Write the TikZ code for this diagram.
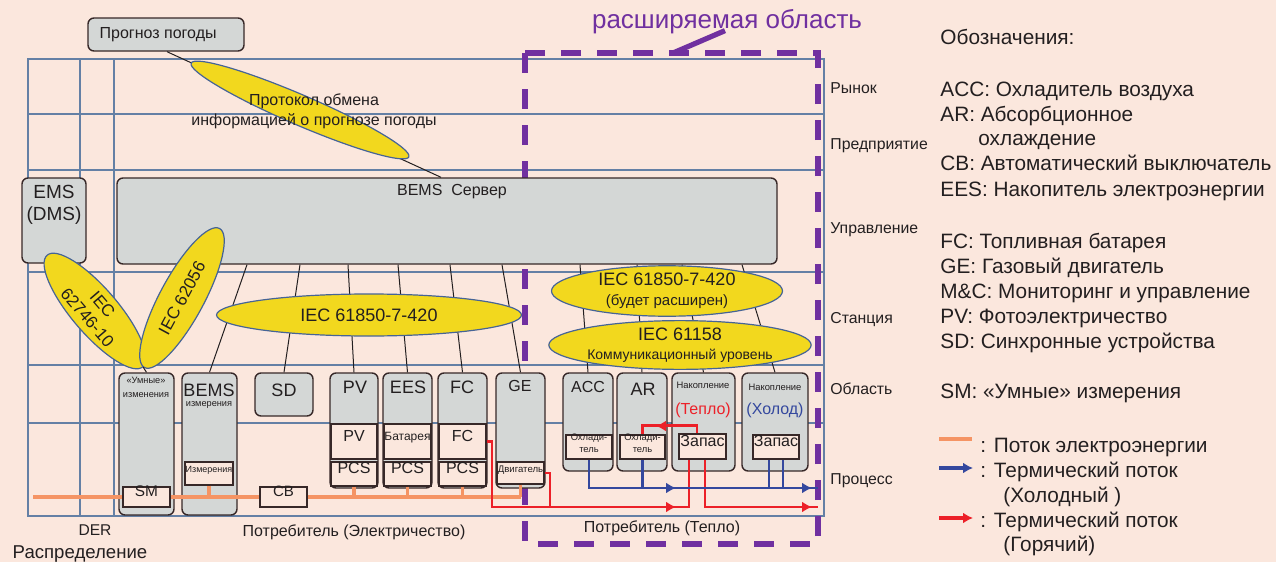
\documentclass[tikz,border=0pt]{standalone}
\usepackage{fontspec}
\setmainfont{Liberation Sans}
\usetikzlibrary{arrows.meta,positioning,calc,fit,shapes.geometric}

\definecolor{bgpink}{RGB}{251,231,221}
\definecolor{gridblue}{RGB}{100,128,165}
\definecolor{boxgray}{RGB}{212,215,214}
\definecolor{boxedge}{RGB}{55,40,40}
\definecolor{yell}{RGB}{242,216,30}
\definecolor{elledge}{RGB}{70,100,150}
\definecolor{extpurple}{RGB}{112,48,160}
\definecolor{elecorange}{RGB}{245,148,100}
\definecolor{hotred}{RGB}{236,32,40}
\definecolor{coldblue}{RGB}{52,72,158}
\definecolor{txtdark}{RGB}{35,31,32}

\newcommand{\fsz}[2]{\fontsize{#1}{#2}\selectfont}

\tikzset{
  dev/.style={draw=boxedge,fill=boxgray,rounded corners=3pt,line width=0.7pt,inner sep=0pt},
  part/.style={draw=boxedge,fill=bgpink,line width=0.7pt,inner sep=0pt,text=txtdark,align=center},
  proto/.style={ellipse,draw=elledge,fill=yell,line width=0.6pt,inner sep=0pt,text=txtdark,align=center},
  gridline/.style={gridblue,line width=0.9pt},
  link/.style={txtdark,line width=0.5pt},
  elec/.style={elecorange,line width=1.6pt},
  hot/.style={hotred,line width=1.4pt},
  cold/.style={coldblue,line width=1.4pt},
  flowtip/.style={-{Latex[length=5pt,width=5.5pt]}},
  lbl/.style={text=txtdark,inner sep=0pt},
  legtxt/.style={lbl,anchor=base west,font=\fsz{10.4}{12}},
  rowtxt/.style={lbl,anchor=base west,font=\fsz{7.9}{9}},
}

\begin{document}
\begin{tikzpicture}[x=0.5pt,y=-0.5pt]
\fill[bgpink] (0,0) rectangle (1276,562);
\useasboundingbox (0,0) rectangle (1276,562);

% levels
\draw[gridline] (28,59) rectangle (824,516);
\foreach \y in {114,170,272,365,423}
  \draw[gridline] (28,\y) -- (824,\y);
\foreach \x in {80,114}
  \draw[gridline] (\x,59) -- (\x,516);
\foreach \y/\t in {93/Рынок,149/Предприятие,233/Управление,323/Станция,394/Область,484/Процесс}
  \node[rowtxt] at (830,\y) {\t};

% extension area
\draw[extpurple,line width=2.6pt,dash pattern=on 10pt off 8pt] (525,53) rectangle (818,544);
\node[lbl,text=extpurple,font=\fsz{13}{15}] (extlbl) at (727,22) {расширяемая область};
\coordinate (exttip) at (673,53);
\draw[extpurple,line width=2.6pt] ([xshift=-1pt,yshift=2pt]extlbl.south) -- (exttip);

% boxes
\node[dev,fit={(88,18)(244,51)}] (wx) {};
\node[lbl,font=\fsz{8}{9},right=6pt of wx.west] {Прогноз погоды};
\node[dev,fit={(22,178)(86,263)}] (ems) {};
\node[lbl,font=\fsz{9.5}{11},align=center,below=4pt of ems.north] {EMS\\(DMS)};
\node[dev,fit={(117,178)(777,264)}] (srv) {};
\node[lbl,font=\fsz{8}{9}] at (452,192) {BEMS\ \ Сервер};

\foreach \n/\a/\b in {um/{119,373}/{174,515}, bm/{182,373}/{237,515}, sd/{255,373}/{313,416},
    pv/{330,373}/{378,488}, ees/{383,373}/{432,488}, fc/{438,373}/{487,488}, ge/{496,373}/{545,488},
    acc/{563,373}/{613,471}, ar/{617,373}/{667,471}, sth/{672,373}/{735,471}, stc/{742,373}/{808,471}}
  \node[dev,fit={(\a)(\b)}] (\n) {};

\node[lbl,font=\fsz{4.6}{7},align=center] at (146,387) {«Умные»\\изменения};
\node[lbl,font=\fsz{9}{10}] at (209,390) {BEMS};
\node[lbl,font=\fsz{4.6}{5.5}] at (209,405) {измерения};
\node[lbl,font=\fsz{9}{10}] at (284,390) {SD};
\node[lbl,font=\fsz{9}{10}] at (355,387) {PV};
\node[lbl,font=\fsz{9}{10}] at (408,387) {EES};
\node[lbl,font=\fsz{9}{10}] at (462,387) {FC};
\node[lbl,font=\fsz{8}{9}] at (520,386) {GE};
\node[lbl,font=\fsz{8}{9}] at (588,387) {ACC};
\node[lbl,font=\fsz{9}{10}] at (643,389) {AR};
\node[lbl,font=\fsz{4.7}{5.5}] at (703,385) {Накопление};
\node[lbl,text=hotred,font=\fsz{8}{9}] at (703,410) {(Тепло)};
\node[lbl,font=\fsz{4.7}{5.5}] at (775,387) {Накопление};
\node[lbl,text=coldblue,font=\fsz{8}{9}] at (775,410) {(Холод)};

% inner parts
\node[part,fit={(123,487)(170,507)},font=\fsz{7.7}{9}] (sm) {SM};
\node[part,fit={(185,462)(233,485)},font=\fsz{4.5}{5}] (meas) {Измерения};
\node[part,fit={(331,424)(377,459)},font=\fsz{8}{9}] (pvp) {PV};
\node[part,fit={(331,462)(377,486)},font=\fsz{8}{9}] (pvpcs) {PCS};
\node[part,fit={(384,424)(431,459)},font=\fsz{6}{7}] (bat) {Батарея};
\node[part,fit={(384,462)(431,486)},font=\fsz{8}{9}] (eespcs) {PCS};
\node[part,fit={(439,424)(486,459)},font=\fsz{8}{9}] (fcp) {FC};
\node[part,fit={(439,462)(486,486)},font=\fsz{8}{9}] (fcpcs) {PCS};
\node[part,fit={(497,462)(544,484)},font=\fsz{4.8}{5.5}] (eng) {Двигатель};
\node[part,fit={(566,435)(612,459)},font=\fsz{4.7}{6}] (accc) {Охлади-\\тель};
\node[part,fit={(620,435)(665,459)},font=\fsz{4.7}{6}] (arc) {Охлади-\\тель};
\node[part,fit={(679,434)(726,459)},font=\fsz{8}{9}] (hstore) {Запас};
\node[part,fit={(753,435)(799,459)},font=\fsz{8}{9}] (cstore) {Запас};
\node[part,fit={(260,487)(307,507)},font=\fsz{7.5}{9}] (cb) {CB};

% links to the server
\draw[link] (wx.south -| 167,0) -- (srv.north -| 441,0);
\foreach \sx/\dst in {247/bm,300/sd,348/pv,398/ees,450/fc,502/ge,580/acc,637/ar,682/sth,742/stc}
  \draw[link] (srv.south -| \sx,0) -- (\dst.north);

% protocols
\node[proto,minimum width=118.5pt,minimum height=15pt,rotate=-23.3] (wxp) at (300,110) {};
\node[lbl,font=\fsz{8}{10},align=center] at (314,111) {Протокол обмена\\информацией о прогнозе погоды};
\node[proto,minimum width=73.5pt,minimum height=23pt,rotate=-49.4,font=\fsz{8.5}{10}] (iecdms) at (95,311) {IEC\\62746-10};
\node[proto,minimum width=79pt,minimum height=22pt,rotate=61.6,font=\fsz{8.5}{10}] (iecsm) at (182,298) {IEC 62056};
\draw[link] (iecdms.east) -- (um.north);
\node[proto,minimum width=152.5pt,minimum height=21pt,font=\fsz{9}{10}] (iec420) at (369,315) {IEC 61850-7-420};
\node[proto,minimum width=115.5pt,minimum height=23.5pt,font=\fsz{9}{10}] (iec420x) at (667,291) {IEC 61850-7-420\\{\fsz{7.5}{9}(будет расширен)}};
\node[proto,minimum width=130pt,minimum height=23pt,font=\fsz{9}{9.5}] (iec158) at (680,345) {IEC 61158\\{\fsz{7}{8}Коммуникационный уровень}};

% electricity
\coordinate (gridin) at (33,497);
\draw[elec] (gridin) -- (sm.west);
\draw[elec] (sm.east) -- (cb.west);
\draw[elec] (cb.east) -- (cb.east -| eng.south);
\foreach \p in {meas,pvpcs,eespcs,fcpcs,eng}
  \draw[elec] (\p.south) -- (\p.south |- cb.west);

% hot water
\coordinate (fcdrop) at (492,507);
\coordinate (gedrop) at (550,507);
\coordinate (hotout) at (818,507);
\draw[hot] (fcp.east) -| (fcdrop) -| ([xshift=-6.75pt]hstore.south);
\draw[hot] (eng.east) -| (gedrop);
\draw[hot] ([xshift=1.25pt]hstore.south) |- (hotout);
\draw[hot] ([xshift=-2.75pt]hstore.north) -- ++(0,-8) -| (arc.north);
\draw[hot,flowtip] (650,507) -- (676,507);
\draw[hot,flowtip] (788,507) -- (812,507);
\draw[hot,flowtip] (680,426) -- (656,426);

% cold water
\coordinate (coldout) at (818,488);
\draw[cold] (accc.south) |- (coldout);
\draw[cold] (arc.south) -- (arc.south |- coldout);
\draw[cold] ([xshift=-3.5pt]cstore.south) -- ([xshift=-3.5pt]cstore.south |- coldout);
\draw[cold] ([xshift=3.5pt]cstore.south) -- ([xshift=3.5pt]cstore.south |- coldout);
\draw[cold,flowtip] (650,488) -- (676,488);
\draw[cold,flowtip] (788,488) -- (812,488);

% captions
\node[lbl,font=\fsz{8}{9}] at (354,532) {Потребитель (Электричество)};
\node[lbl,font=\fsz{8}{9}] at (662,528) {Потребитель (Тепло)};
\node[lbl,font=\fsz{7.8}{9}] at (95,530) {DER};
\node[lbl,font=\fsz{9.3}{11}] at (80,554) {Распределение};

% legend
\node[legtxt] at (940,45) {Обозначения:};
\foreach \y/\t in {96/ACC: Охладитель воздуха, 121/AR: Абсорбционное, 170/CB: Автоматический выключатель,
    196/EES: Накопитель электроэнергии, 248/FC: Топливная батарея, 273/GE: Газовый двигатель,
    298/M\&C: Мониторинг и управление, 323/PV: Фотоэлектричество, 348/SD: Синхронные устройства,
    398/SM: «Умные» измерения}
  \node[legtxt] at (940,\y) {\t};
\node[legtxt] at (978,145) {охлаждение};
\node[legtxt] (legelec) at (980,452) {: Поток электроэнергии};
\node[legtxt] (legcold) at (980,477) {: Термический поток};
\node[legtxt] at (1003,502) {(Холодный )};
\node[legtxt] (leghot) at (980,527) {: Термический поток};
\node[legtxt] at (1003,551) {(Горячий)};
\draw[elec,line width=2pt] (939,439) -- (972,439);
\draw[cold,line width=2pt,flowtip] (939,468) -- (973,468);
\draw[hot,line width=2pt,flowtip] (939,518) -- (973,518);
\end{tikzpicture}
\end{document}
